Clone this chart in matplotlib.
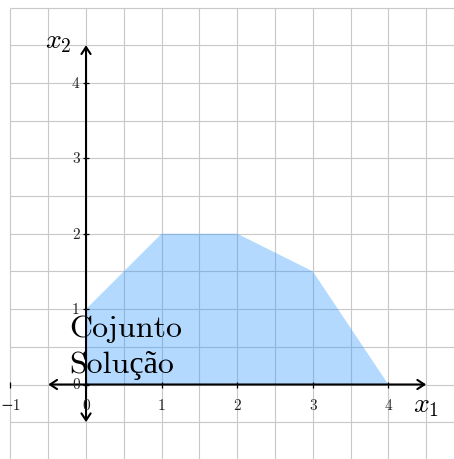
import matplotlib
matplotlib.use("Agg")
import matplotlib.pyplot as plt
import numpy as np

plt.rcParams['mathtext.fontset'] = 'cm'

# ---- data ----
region_x = [0, 0, 1, 2, 3, 4]
region_y = [0, 1, 2, 2, 1.5, 0]
x_ticks = [-1, 0, 1, 2, 3, 4]
x_tick_labels = ['\u22121', '0', '1', '2', '3', '4']
y_ticks = [-1, 0, 1, 2, 3, 4]
y_tick_labels = ['\u22121', '0', '1', '2', '3', '4']
grid_x = [-1, -0.5, 0, 0.5, 1, 1.5, 2, 2.5, 3, 3.5, 4, 4.5]
grid_y = [-1, -0.5, 0, 0.5, 1, 1.5, 2, 2.5, 3, 3.5, 4, 4.5, 5]
region_label = 'Cojunto\nSolução'

XMIN, XMAX = -1.138, 4.868
YMIN, YMAX = -0.988, 5.113

fig = plt.figure(figsize=(4.54, 4.60), dpi=100)
ax = fig.add_axes([0, 0, 1, 1])
ax.set_xlim(XMIN, XMAX)
ax.set_ylim(YMIN, YMAX)
ax.axis('off')

grid_color = '#c8c8c8'
ax.vlines(grid_x, YMIN, 5, colors=grid_color, lw=0.8, zorder=1)
ax.hlines(grid_y, -1, XMAX, colors=grid_color, lw=0.8, zorder=1)

ax.fill(region_x, region_y, color='#3399ff', alpha=0.37, lw=0, zorder=2)

arrow_style = '<->,head_length=0.5,head_width=0.33'
ax.annotate('', xy=(4.5, 0), xytext=(-0.5, 0),
            arrowprops=dict(arrowstyle=arrow_style, lw=1.5, color='black',
                            shrinkA=0, shrinkB=0), zorder=4)
ax.annotate('', xy=(0, 4.5), xytext=(0, -0.5),
            arrowprops=dict(arrowstyle=arrow_style, lw=1.5, color='black',
                            shrinkA=0, shrinkB=0), zorder=4)

ax.plot(x_ticks, [0] * len(x_ticks), ls='none', marker='|', ms=5, mew=0.9,
        color='black', zorder=4, clip_on=False)
ax.plot([0] * len(y_ticks), y_ticks, ls='none', marker='_', ms=5, mew=0.9,
        color='black', zorder=4, clip_on=False)

tick_font = dict(family=['cmr10', 'DejaVu Serif'], fontsize=11, color='#222222')
for t, lab in zip(x_ticks, x_tick_labels):
    ax.annotate(lab, xy=(t, 0), xytext=(0, -14.5), textcoords='offset points',
                ha='center', va='center', zorder=5, **tick_font)
for t, lab in zip(y_ticks, y_tick_labels):
    ax.annotate(lab, xy=(0, t), xytext=(-4.5, 0), textcoords='offset points',
                ha='right', va='center', zorder=5, **tick_font)

ax.text(4.325, -0.35, r'$x_1$', fontsize=20, ha='left', va='baseline', zorder=6)
ax.text(-0.542, 4.476, r'$x_2$', fontsize=20, ha='left', va='baseline', zorder=6)

ax.text(-0.22, 0.93, region_label, family=['cmr10', 'Liberation Serif'],
        fontsize=23, ha='left', va='top', linespacing=1.35, zorder=6, color='black')

fig.savefig('out.png', dpi=100)
